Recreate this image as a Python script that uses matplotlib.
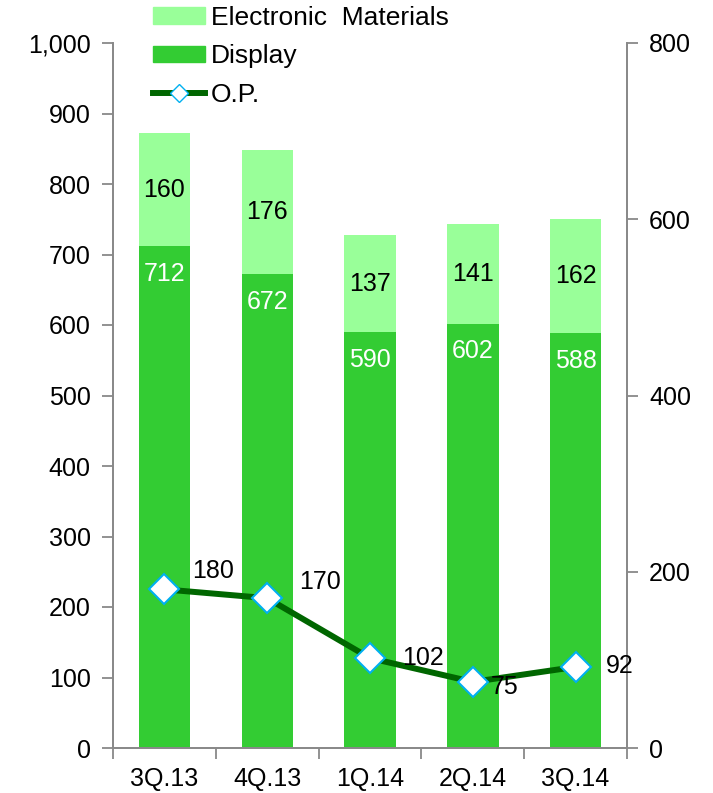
import matplotlib
matplotlib.use("Agg")
import matplotlib.pyplot as plt
import numpy as np
from matplotlib.ticker import FuncFormatter, FixedLocator, MultipleLocator
from matplotlib.patches import Patch
from matplotlib.lines import Line2D

plt.rcParams['font.family'] = ['Liberation Sans', 'DejaVu Sans']

categories = ["3Q.13", "4Q.13", "1Q.14", "2Q.14", "3Q.14"]
display = [712, 672, 590, 602, 588]
electronic = [160, 176, 137, 141, 162]
op = [180, 170, 102, 75, 92]

c_display = "#33CC33"
c_em = "#99FF99"
c_line = "#006600"
c_marker_edge = "#00B0F0"
c_axis = "#898989"
fs = 18

fig = plt.figure(figsize=(7.13, 7.93), dpi=100)
ax = fig.add_axes([113/713, 45/793, 514/713, 705/793])
ax2 = ax.twinx()

x = np.arange(len(categories))
w = 0.5
ax.bar(x, display, w, color=c_display, zorder=2)
ax.bar(x, electronic, w, bottom=display, color=c_em, zorder=2)

for xi, d, e in zip(x, display, electronic):
    ax.annotate(str(d), (xi, d), xytext=(0, -20), textcoords="offset points",
                ha="center", va="center", color="white", fontsize=fs)
    ax.text(xi, d + e / 2, str(e), ha="center", va="center", color="black", fontsize=fs)

ax2.plot(x, op, color=c_line, lw=4.3, marker="D", markersize=15,
         markerfacecolor="white", markeredgecolor=c_marker_edge, markeredgewidth=1.5, zorder=5)
offsets = [(35, 13), (38, 12), (38, 0), (23, -4), (32, 1)]
for xi, v, off in zip(x, op, offsets):
    ax2.annotate(str(v), (xi, v), xytext=off, textcoords="offset points",
                 ha="center", va="center", color="black", fontsize=fs, zorder=6)

ax.set_xlim(-0.5, len(categories) - 0.5)
ax.set_ylim(0, 1000)
ax2.set_ylim(0, 800)
ax.yaxis.set_major_locator(MultipleLocator(100))
ax.yaxis.set_major_formatter(FuncFormatter(lambda v, p: f"{int(v):,}"))
ax2.yaxis.set_major_locator(MultipleLocator(200))

ax.set_xticks(x)
ax.set_xticklabels(categories)
ax.xaxis.set_minor_locator(FixedLocator(np.arange(-0.5, len(categories), 1.0)))
ax.tick_params(axis="x", which="major", length=0, pad=14, labelsize=fs)
ax.tick_params(axis="x", which="minor", length=8, color=c_axis, width=1.3)
ax.tick_params(axis="y", length=8, color=c_axis, width=1.3, labelsize=fs, pad=8)
ax2.tick_params(axis="y", length=8, color=c_axis, width=1.3, labelsize=fs, pad=8)

for a in (ax, ax2):
    a.spines["top"].set_visible(False)
    for s in ("left", "right", "bottom"):
        a.spines[s].set_color(c_axis)
        a.spines[s].set_linewidth(1.3)

handles = [Patch(color=c_em, label="Electronic  Materials"),
           Patch(color=c_display, label="Display"),
           Line2D([0], [0], color=c_line, lw=4.3, marker="D", markersize=9,
                  markerfacecolor="white", markeredgecolor=c_marker_edge, label="O.P.")]
fig.legend(handles=handles, loc="upper left", bbox_to_anchor=(142/713, 1.006),
           frameon=False, fontsize=19, handlelength=2.0, handleheight=0.6,
           handletextpad=0.2, labelspacing=0.55, borderaxespad=0)

fig.savefig("out.png", dpi=100)
